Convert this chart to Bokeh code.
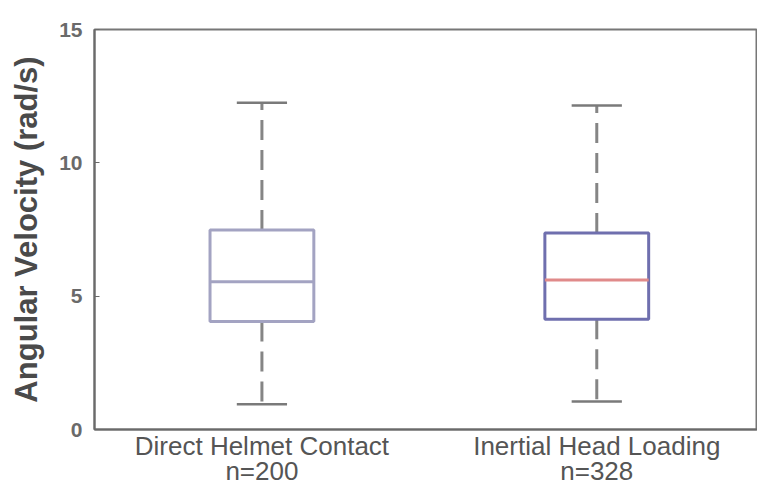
from bokeh.plotting import figure
from bokeh.models import ColumnDataSource, Range1d, FixedTicker
from bokeh.transform import dodge
from bokeh.embed import file_html
from bokeh.resources import INLINE

# Data
groups = ["Direct Helmet Contact", "Inertial Head Loading"]
counts = [200, 328]
positions = [1, 2]
lower_whisker = [0.95, 1.05]
q1 = [4.05, 4.13]
median = [5.54, 5.61]
q3 = [7.48, 7.37]
upper_whisker = [12.25, 12.15]

# Styles
box_colors = ["#a3a3c2", "#6f6fae"]
median_colors = ["#a3a3c2", "#e08a8a"]
whisker_color = "#858585"
text_color = "#555555"

src = ColumnDataSource(dict(x=positions, lo=lower_whisker, q1=q1, med=median,
                            q3=q3, hi=upper_whisker, box_color=box_colors,
                            med_color=median_colors))

p = figure(width=757, height=489, output_backend="svg", toolbar_location=None,
           x_range=Range1d(0.5, 2.48), y_range=Range1d(0, 15),
           min_border_left=94, min_border_top=29, min_border_bottom=59,
           min_border_right=0)
p.background_fill_color = "white"
p.border_fill_color = "white"
p.grid.visible = False
p.outline_line_color = "#777777"
p.outline_line_width = 2

BW = 0.31
CW = 0.15

# whiskers
p.segment(x0="x", y0="q3", x1="x", y1="hi", source=src, line_color=whisker_color,
          line_width=3, line_dash="20 10")
p.segment(x0="x", y0="q1", x1="x", y1="lo", source=src, line_color=whisker_color,
          line_width=3, line_dash="20 10")
# caps
for yf in ["hi", "lo"]:
    p.segment(x0=dodge("x", -CW / 2, range=p.x_range), y0=yf,
              x1=dodge("x", CW / 2, range=p.x_range), y1=yf, source=src,
              line_color="#7a7a7a", line_width=2.5)
# boxes
p.vbar(x="x", width=BW, top="q3", bottom="q1", source=src, fill_color="white",
       line_color="box_color", line_width=3)
# medians
p.segment(x0=dodge("x", -BW / 2, range=p.x_range), y0="med",
          x1=dodge("x", BW / 2, range=p.x_range), y1="med", source=src,
          line_color="med_color", line_width=3)

# axes
p.yaxis.ticker = FixedTicker(ticks=[0, 5, 10, 15])
p.yaxis.axis_label = "Angular Velocity (rad/s)"
p.yaxis.axis_label_text_font = "Liberation Sans"
p.yaxis.axis_label_text_font_style = "bold"
p.yaxis.axis_label_text_font_size = "31px"
p.yaxis.axis_label_text_color = "#4a4a4a"
p.yaxis.axis_label_standoff = 12
p.yaxis.major_label_text_font = "Liberation Sans"
p.yaxis.major_label_text_font_style = "bold"
p.yaxis.major_label_text_font_size = "21px"
p.yaxis.major_label_text_color = "#6a6a6a"
p.yaxis.major_label_standoff = 12
p.yaxis.major_tick_in = 5
p.yaxis.major_tick_out = 0
p.yaxis.minor_tick_line_color = None
p.yaxis.axis_line_color = "#6a6a6a"
p.yaxis.axis_line_width = 2
p.yaxis.major_tick_line_color = "#6a6a6a"

p.xaxis.ticker = FixedTicker(ticks=positions)
p.xaxis.major_label_overrides = {pos: f"{g}\nn={n}" for pos, g, n in zip(positions, groups, counts)}
p.xaxis.major_label_text_font = "Liberation Sans"
p.xaxis.major_label_text_font_size = "26px"
p.xaxis.major_label_text_color = text_color
p.xaxis.major_label_text_line_height = 0.86
p.xaxis.major_label_standoff = 1
p.xaxis.major_tick_in = 0
p.xaxis.major_tick_out = 0
p.xaxis.minor_tick_line_color = None
p.xaxis.axis_line_color = "#6a6a6a"
p.xaxis.axis_line_width = 2

open("out.html", "w").write(file_html(p, INLINE))
